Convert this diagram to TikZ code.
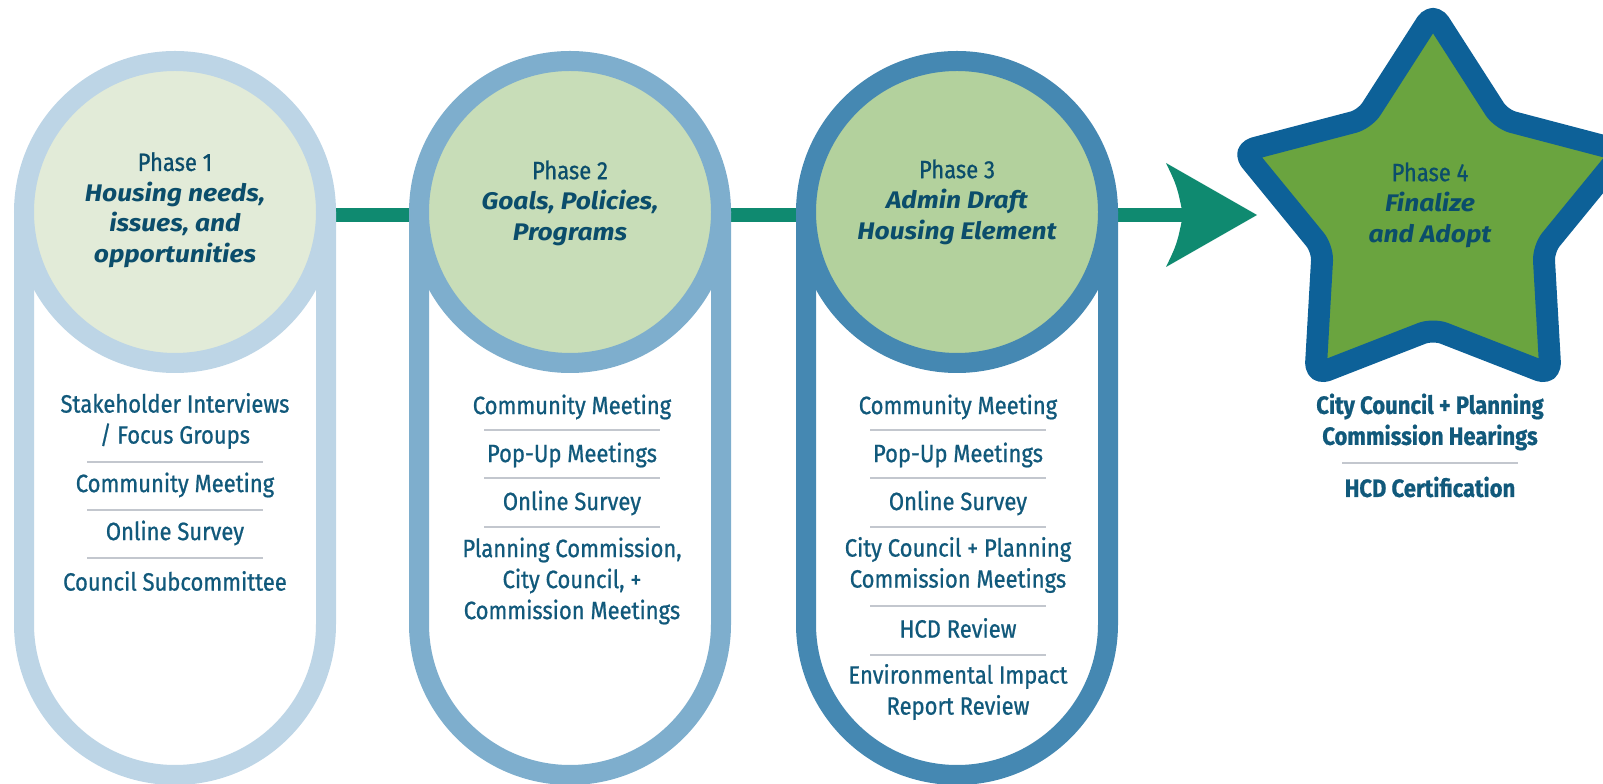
\documentclass[tikz,border=0pt]{standalone}
\usepackage{fontspec}
\setmainfont{Fira Sans}
\newfontfamily\condfont[FakeStretch=0.88,FakeBold=0.8]{Fira Sans}
\newfontfamily\headfont[FakeStretch=1.1]{Fira Sans}
\newcommand\phasenofont{\condfont\fontsize{25}{30.5}\selectfont}

\definecolor{ring1}{HTML}{BDD5E6}
\definecolor{fill1}{HTML}{E2EBD8}
\definecolor{ring2}{HTML}{7EAECD}
\definecolor{fill2}{HTML}{C8DDB8}
\definecolor{ring3}{HTML}{4588B2}
\definecolor{fill3}{HTML}{B3D19D}
\definecolor{starring}{HTML}{0D6198}
\definecolor{starfill}{HTML}{6AA43F}
\definecolor{flowc}{HTML}{0F8A70}
\definecolor{txt}{HTML}{11597B}
\definecolor{ttl}{HTML}{0B4D6B}
\definecolor{sepc}{HTML}{C3C7CE}

\tikzset{
  phasecircle/.style={circle, line width=20pt, minimum size=302pt, inner sep=0pt},
  pillbody/.style={line width=20pt, fill=white},
  item/.style={font=\condfont\fontsize{25}{31}\selectfont, text=txt, align=center, inner sep=0pt},
  stageitem/.style={font=\condfont\bfseries\fontsize{25}{31}\selectfont, text=txt, align=center, inner sep=0pt},
  heading/.style={font=\headfont\fontsize{24}{30.5}\selectfont, text=ttl, align=center, inner sep=0pt},
  sepline/.style={draw=sepc, line width=1.8pt},
  flow/.style={draw=flowc, line width=14pt},
}

\begin{document}
\begin{tikzpicture}[x=1pt,y=1pt]
\useasboundingbox (0,0) rectangle (1603,784);
\clip (0,0) rectangle (1603,784);

% phase centres and arrow points
\coordinate (c1) at (175,572);
\coordinate (c2) at (570,572);
\coordinate (c3) at (957,572);
\coordinate (hb) at (1183,569);
\coordinate (ht) at (1257,569);

% flow line running behind the phases
\draw[flow] (c1 |- hb) -- (hb);
\fill[flowc] (ht) -- (1166,621) .. controls (1177,598) .. (hb)
  .. controls (1177,540) .. (1166,517) -- cycle;

% pill bodies
\foreach \x/\r in {175/ring1,570/ring2,957/ring3}{
  \draw[pillbody, draw=\r] (\x-151,572) -- (\x-151,160)
    arc[start angle=180, end angle=360, radius=151] -- (\x+151,572);
}

% phase circles
\node[phasecircle, draw=ring1, fill=fill1] (p1) at (c1) {};
\node[phasecircle, draw=ring2, fill=fill2] (p2) at (c2) {};
\node[phasecircle, draw=ring3, fill=fill3] (p3) at (c3) {};

% phase 4 star
\begin{scope}[shift={(1433,571)}]
\draw[line width=22pt, draw=starring, fill=starfill, rounded corners=12pt, line join=round]
  (90:200) -- (126:116) -- (162:200) -- (198:116) -- (234:200) -- (270:116)
  -- (306:200) -- (342:116) -- (18:200) -- (54:116) -- cycle;
\end{scope}

% headings
\node[heading] (h1) at (175,574) {{\phasenofont Phase 1}\\
  {\bfseries\itshape Housing needs,}\\{\bfseries\itshape issues, and}\\{\bfseries\itshape opportunities}};
\node[heading] (h2) at (570,581) {{\phasenofont Phase 2}\\
  {\bfseries\itshape Goals, Policies,}\\{\bfseries\itshape Programs}};
\node[heading] (h3) at (957,582) {{\phasenofont Phase 3}\\
  {\bfseries\itshape Admin Draft}\\{\bfseries\itshape Housing Element}};
\node[heading] (h4) at (1430,579) {{\phasenofont Phase 4}\\
  {\bfseries\itshape Finalize}\\{\bfseries\itshape and Adopt}};

% phase 1 activities
\node[item] (a1) at (175,363) {Stakeholder Interviews\\/ Focus Groups};
\node[item] (b1) at (175,299) {Community Meeting};
\node[item] (d1) at (175,251) {Online Survey};
\node[item] (e1) at (175,203) {Council Subcommittee};
\foreach \y in {322,274,226} \draw[sepline] (87,\y) -- (263,\y);

% phase 2 activities
\node[item] (a2) at (572,377) {Community Meeting};
\node[item] (b2) at (572,329) {Pop-Up Meetings};
\node[item] (d2) at (572,281) {Online Survey};
\node[item] (e2) at (572,203) {Planning Commission,\\City Council, +\\Commission Meetings};
\foreach \y in {354,306,257} \draw[sepline] (484,\y) -- (660,\y);

% phase 3 activities
\node[item] (a3) at (958,377) {Community Meeting};
\node[item] (b3) at (958,329) {Pop-Up Meetings};
\node[item] (d3) at (958,281) {Online Survey};
\node[item] (e3) at (958,219) {City Council + Planning\\Commission Meetings};
\node[item] (f3) at (958,156) {HCD Review};
\node[item] (g3) at (958,92) {Environmental Impact\\Report Review};
\foreach \y in {354,306,257,178,129} \draw[sepline] (870,\y) -- (1046,\y);

% phase 4 activities
\node[stageitem] (a4) at (1430,362) {City Council + Planning\\Commission Hearings};
\node[stageitem] (b4) at (1430,297) {HCD Certification};
\draw[sepline] (1342,321) -- (1518,321);
\end{tikzpicture}
\end{document}
